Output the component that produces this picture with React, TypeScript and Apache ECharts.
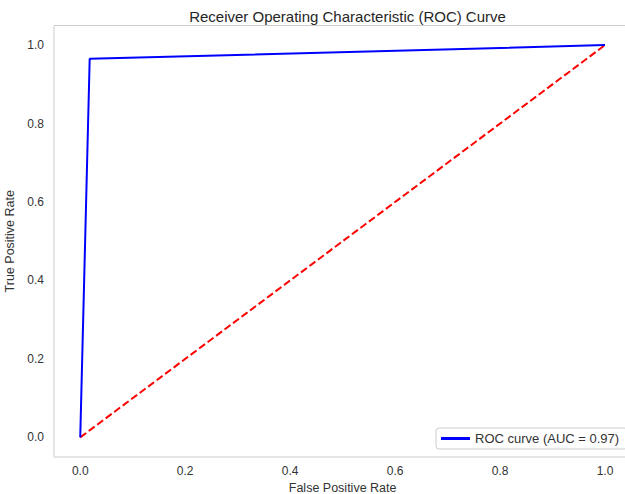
import React, { useEffect, useRef } from "react";
import * as echarts from "echarts";

const fpr = [0, 0.018, 1];
const tpr = [0, 0.965, 1];
const diagX = [0, 1];
const diagY = [0, 1];
const tickValues = [0, 0.2, 0.4, 0.6, 0.8, 1.0];
const titleText = "Receiver Operating Characteristic (ROC) Curve";
const rocLabel = "ROC curve (AUC = 0.97)";
const xName = "False Positive Rate";
const yName = "True Positive Rate";

export default function App() {
  const ref = useRef<HTMLDivElement>(null);
  useEffect(() => {
    if (!ref.current) return;
    const chart = echarts.init(ref.current, undefined, { renderer: "svg" });
    const font = "'Liberation Sans', Arial, sans-serif";
    const txt = "#333333";
    chart.setOption({
      animation: false,
      backgroundColor: "#ffffff",
      textStyle: { fontFamily: font },
      title: {
        text: titleText,
        left: 342.5,
        textAlign: "center",
        top: 4,
        textStyle: { fontFamily: font, fontSize: 15, fontWeight: "normal", color: "#262626" },
      },
      grid: {
        left: 54,
        right: 0.75,
        top: 25.5,
        bottom: 37,
        outerBoundsMode: "none",
        containLabel: false,
        show: true,
        borderColor: "#cccccc",
        borderWidth: 1,
        backgroundColor: "transparent",
      },
      legend: {
        data: [rocLabel],
        left: 436,
        top: 428,
        icon: "rect",
        itemWidth: 29,
        itemHeight: 3,
        itemGap: 8,
        padding: [4, 8, 4, 5],
        borderColor: "#cccccc",
        borderWidth: 1,
        borderRadius: 3,
        backgroundColor: "#ffffff",
        textStyle: { fontFamily: font, fontSize: 13, color: txt },
      },
      xAxis: {
        type: "value",
        min: -0.05,
        max: 1.05,
        name: xName,
        nameLocation: "middle",
        nameGap: 24,
        nameTextStyle: { fontFamily: font, fontSize: 12.5, color: txt },
        axisLine: { show: false },
        axisTick: { show: false },
        splitLine: { show: false },
        axisLabel: {
          customValues: tickValues,
          formatter: (v: number) => v.toFixed(1),
          margin: 8,
          fontFamily: font,
          fontSize: 12,
          color: txt,
        },
      },
      yAxis: {
        type: "value",
        min: -0.05,
        max: 1.05,
        name: yName,
        nameLocation: "middle",
        nameGap: 33,
        nameRotate: 90,
        nameTextStyle: { fontFamily: font, fontSize: 12.5, color: txt },
        axisLine: { show: false },
        axisTick: { show: false },
        splitLine: { show: false },
        axisLabel: {
          customValues: tickValues,
          formatter: (v: number) => v.toFixed(1),
          margin: 10,
          fontFamily: font,
          fontSize: 12,
          color: txt,
        },
      },
      series: [
        {
          name: "diag",
          type: "line",
          data: diagX.map((x, i) => [x, diagY[i]]),
          symbol: "none",
          lineStyle: { color: "#ff0000", width: 2, type: [7.4, 3.2] },
          z: 2,
        },
        {
          name: rocLabel,
          type: "line",
          data: fpr.map((x, i) => [x, tpr[i]]),
          symbol: "none",
          itemStyle: { color: "#0000ff" },
          lineStyle: { color: "#0000ff", width: 2 },
          z: 3,
        },
      ],
    });
    return () => chart.dispose();
  }, []);
  return (
    <div
      style={{
        position: "absolute",
        left: 0,
        top: 0,
        width: 625,
        height: 494,
        overflow: "hidden",
      }}
    >
      <div ref={ref} style={{ width: 632, height: 494 }} />
    </div>
  );
}
